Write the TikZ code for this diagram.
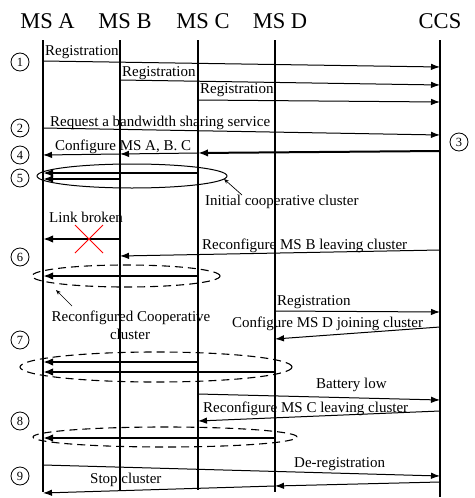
\documentclass[tikz,border=0pt]{standalone}
\usepackage{fontspec}
\setmainfont{Liberation Serif}
\usetikzlibrary{arrows.meta}
\begin{document}
\begin{tikzpicture}[x=1pt,y=-1pt,
  lifeline/.style={line width=1.2pt},
  msg/.style={line width=1pt,-{Latex[length=9pt,width=6.5pt]}},
  bold msg/.style={line width=2pt,-{Latex[length=10pt,width=7.5pt]}},
  lbl/.style={font=\fontsize{15}{18}\selectfont,inner sep=0pt,anchor=base west},
  clbl/.style={font=\fontsize{15}{18}\selectfont,inner sep=0pt,anchor=base},
  head/.style={font=\fontsize{22.5}{22.5}\selectfont,inner sep=0pt,anchor=base},
  stepno/.style={circle,draw,line width=0.8pt,minimum size=18pt,inner sep=0pt,
    font=\fontsize{12.5}{12.5}\selectfont},
  group/.style={draw,line width=1pt},
  dashed group/.style={draw,line width=1.1pt,dash pattern=on 8pt off 5pt},
  pointer/.style={line width=0.7pt,-{Stealth[length=5pt,width=4pt]}},
  cross/.style={draw=red,line width=0.9pt}
]
\useasboundingbox (0,0) rectangle (474,498);

% ---- entity headers ----
\node[head] (hA) at (47.5,28) {MS A};
\node[head] (hB) at (125,28) {MS B};
\node[head] (hC) at (203,28) {MS C};
\node[head] (hD) at (280,28) {MS D};
\node[head] (hS) at (440,28) {CCS};

% ---- lifelines ----
\coordinate (A0) at (43,40);  \coordinate (A1) at (43,492);
\coordinate (B0) at (120,40); \coordinate (B1) at (120,490);
\coordinate (C0) at (198,40); \coordinate (C1) at (198,490);
\coordinate (D0) at (275,40); \coordinate (D1) at (275,492);
\coordinate (S0) at (440,40); \coordinate (S1) at (440,497);
\draw[lifeline] (A0) -- (A1);
\draw[lifeline] (B0) -- (B1);
\draw[lifeline] (C0) -- (C1);
\draw[lifeline] (D0) -- (D1);
\draw[lifeline] (S0) -- (S1);

% ---- step numbers ----
\node[stepno] (s1) at (20,62)  {1};
\node[stepno] (s2) at (20,128) {2};
\node[stepno] (s3) at (459,142) {3};
\node[stepno] (s4) at (20,155) {4};
\node[stepno] (s5) at (20,178) {5};
\node[stepno] (s6) at (20,257) {6};
\node[stepno] (s7) at (20,340) {7};
\node[stepno] (s8) at (20,421) {8};
\node[stepno] (s9) at (20,476) {9};

% ---- registrations ----
\coordinate (r1a) at (43,61);   \coordinate (r1b) at (440,67);
\coordinate (r2a) at (120,80);  \coordinate (r2b) at (440,85);
\coordinate (r3a) at (198,100); \coordinate (r3b) at (440,102);
\draw[msg] (r1a) -- (r1b);
\draw[msg] (r2a) -- (r2b);
\draw[msg] (r3a) -- (r3b);
\node[lbl] (l1) at (45,55)  {Registration};
\node[lbl] (l2) at (122,76) {Registration};
\node[lbl] (l3) at (200,93) {Registration};

% ---- service request ----
\coordinate (q1) at (43,128); \coordinate (q2) at (440,135);
\draw[msg] (q1) -- (q2);
\node[lbl] (lq) at (50,126) {Request a bandwidth sharing service};

% ---- configure MS A, B, C ----
\coordinate (c0) at (440,151); \coordinate (c1) at (198,153);
\coordinate (c2) at (120,154); \coordinate (c3) at (43,155);
\draw[bold msg] (c0) -- (c1);
\draw[msg] (c1) -- (c2);
\draw[msg] (c2) -- (c3);
\node[lbl] (lc) at (55,150) {Configure MS A, B. C};

% ---- initial cooperative cluster ----
\coordinate (k1a) at (198,173); \coordinate (k1b) at (43,173);
\coordinate (k2a) at (120,179); \coordinate (k2b) at (43,179);
\draw[bold msg] (k1a) -- (k1b);
\draw[bold msg] (k2a) -- (k2b);
\draw[group] (132,176) ellipse [x radius=95pt, y radius=12pt];
\coordinate (p1a) at (242,195); \coordinate (p1b) at (224,179);
\draw[pointer] (p1a) -- (p1b);
\node[lbl] (li) at (205,205) {Initial cooperative cluster};

% ---- link broken ----
\node[lbl] (lb) at (49,222) {Link broken};
\coordinate (b1) at (120,239); \coordinate (b2) at (43,239);
\draw[bold msg] (b1) -- (b2);
\coordinate (x1) at (75,225); \coordinate (x2) at (103,253);
\coordinate (x3) at (75,253); \coordinate (x4) at (103,225);
\draw[cross] (x1) -- (x2) (x3) -- (x4);

% ---- reconfigure MS B leaving ----
\coordinate (m1) at (440,250); \coordinate (m2) at (120,256);
\draw[msg] (m1) -- (m2);
\node[lbl] (lm) at (202,249) {Reconfigure MS B leaving cluster};

% ---- reconfigured cluster ----
\coordinate (g1) at (198,276); \coordinate (g2) at (43,276);
\draw[bold msg] (g1) -- (g2);
\draw[dashed group] (126,276) ellipse [x radius=94pt, y radius=11pt];
\coordinate (p2a) at (72,306); \coordinate (p2b) at (56,290);
\draw[pointer] (p2a) -- (p2b);
\node[clbl] (lr1) at (131,321) {Reconfigured Cooperative};
\node[clbl] (lr2) at (130,339) {cluster};

% ---- MS D joins ----
\coordinate (d1) at (275,311); \coordinate (d2) at (440,312);
\draw[msg] (d1) -- (d2);
\node[lbl] (ld) at (277,305) {Registration};
\coordinate (j1) at (440,327); \coordinate (j2) at (275,339);
\draw[msg] (j1) -- (j2);
\node[lbl] (lj) at (232,327) {Configure MS D joining cluster};

\coordinate (e1a) at (198,362); \coordinate (e1b) at (43,362);
\coordinate (e2a) at (275,372); \coordinate (e2b) at (43,372);
\draw[bold msg] (e1a) -- (e1b);
\draw[bold msg] (e2a) -- (e2b);
\draw[dashed group] (156,367) ellipse [x radius=136pt, y radius=15pt];

% ---- MS C leaves ----
\coordinate (y1) at (198,394); \coordinate (y2) at (440,400);
\draw[msg] (y1) -- (y2);
\node[lbl] (ly) at (316,388) {Battery low};
\coordinate (v1) at (440,411); \coordinate (v2) at (198,421);
\draw[msg] (v1) -- (v2);
\node[lbl] (lv) at (203,412) {Reconfigure MS C leaving cluster};

\coordinate (f1) at (275,438); \coordinate (f2) at (43,438);
\draw[bold msg] (f1) -- (f2);
\draw[dashed group] (165,437) ellipse [x radius=132pt, y radius=10pt];

% ---- teardown ----
\coordinate (u1) at (43,465); \coordinate (u2) at (440,476);
\draw[msg] (u1) -- (u2);
\node[lbl] (lu) at (294,467) {De-registration};
\coordinate (t0) at (440,482); \coordinate (t1) at (275,486);
\coordinate (t2) at (43,493);
\draw[msg] (t0) -- (t1);
\draw[msg] (t1) -- (t2);
\node[lbl] (lt) at (90,483) {Stop cluster};
\end{tikzpicture}
\end{document}
